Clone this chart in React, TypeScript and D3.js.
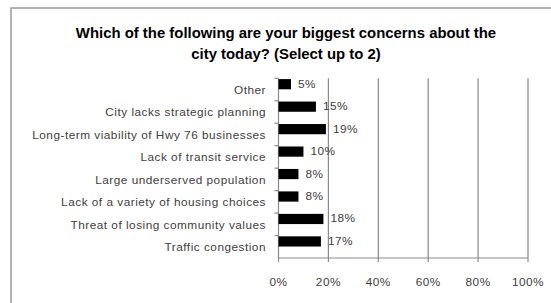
import React from "react";
import * as d3 from "d3";

const categories = [
  "Other",
  "City lacks strategic planning",
  "Long-term viability of Hwy 76 businesses",
  "Lack of transit service",
  "Large underserved population",
  "Lack of a variety of housing choices",
  "Threat of losing community values",
  "Traffic congestion",
];
const values = [5, 15, 19, 10, 8, 8, 18, 17];
const valueLabels = ["5%", "15%", "19%", "10%", "8%", "8%", "18%", "17%"];
const xTicks = [0, 20, 40, 60, 80, 100];
const titleLines = [
  "Which of the following are your biggest concerns about the",
  "city today? (Select up to 2)",
];

const W = 551;
const H = 303;
const plotLeft = 278.5;
const plotRight = 528;
const plotTop = 78.3;
const plotBottom = 258;
const font = "'Liberation Sans', Arial, sans-serif";

export default function App() {
  const x = d3.scaleLinear().domain([0, 100]).range([plotLeft, plotRight]);
  const y = d3.scaleBand<string>().domain(categories).range([plotTop, plotBottom]).padding(0);
  const bw = y.bandwidth();
  const barH = 10.2;
  const barOffset = 0.8;
  const gridColor = "#8a8a8a";
  const textColor = "#404040";
  const fs = 11.8;
  const ls = 0.5;

  return (
    <svg
      width={W}
      height={H}
      style={{ position: "absolute", left: 0, top: 0, background: "#fff" }}
    >
      <rect x={11} y={8} width={560} height={310} fill="#fff" stroke="#a0a0a0" strokeWidth={1.6} />
      {titleLines.map((t, i) => (
        <text
          key={i}
          x={286}
          y={33 + i * 20.5}
          textAnchor="middle"
          dominantBaseline="central"
          fontFamily={font}
          fontWeight="bold"
          fontSize={14.9}
          fill="#000"
        >
          {t}
        </text>
      ))}
      {xTicks.slice(1).map((t) => (
        <line key={t} x1={x(t)} x2={x(t)} y1={plotTop} y2={plotBottom} stroke={gridColor} strokeWidth={1.2} />
      ))}
      {/* y axis */}
      <line x1={plotLeft} x2={plotLeft} y1={plotTop} y2={plotBottom} stroke={gridColor} strokeWidth={1.2} />
      {categories.map((c) => (
        <line key={c} x1={plotLeft - 4} x2={plotLeft} y1={y(c)!} y2={y(c)!} stroke={gridColor} strokeWidth={1.2} />
      ))}
      {/* x axis */}
      <line x1={plotLeft} x2={plotRight} y1={plotBottom} y2={plotBottom} stroke={gridColor} strokeWidth={1.2} />
      {xTicks.map((t) => (
        <g key={t}>
          <line x1={x(t)} x2={x(t)} y1={plotBottom} y2={plotBottom + 4} stroke={gridColor} strokeWidth={1.2} />
          <text
            x={x(t)}
            y={281.5}
            textAnchor="middle"
            dominantBaseline="central"
            fontFamily={font}
            fontSize={fs}
            letterSpacing={ls}
            fill={textColor}
          >
            {t}%
          </text>
        </g>
      ))}
      {categories.map((c, i) => (
        <g key={c}>
          <rect x={x(0)} y={y(c)! + barOffset} width={x(values[i]) - x(0)} height={barH} fill="#000" />
          <text
            x={x(values[i]) + 7}
            y={y(c)! + barOffset + barH / 2 - 0.5}
            dominantBaseline="central"
            fontFamily={font}
            fontSize={fs}
            letterSpacing={ls}
            fill={textColor}
          >
            {valueLabels[i]}
          </text>
          <text
            x={266}
            y={y(c)! + bw / 2 + 0.5}
            textAnchor="end"
            dominantBaseline="central"
            fontFamily={font}
            fontSize={fs}
            letterSpacing={ls}
            fill={textColor}
          >
            {c}
          </text>
        </g>
      ))}
    </svg>
  );
}
